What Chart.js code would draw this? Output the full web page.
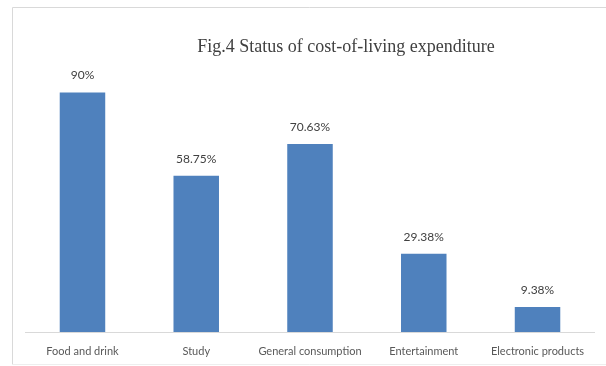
<!DOCTYPE html>
<html>
<head>
<meta charset="utf-8">
<script src="https://cdn.jsdelivr.net/npm/chart.js@4"></script>
<style>
  html, body { margin: 0; padding: 0; background: #ffffff; }
  #wrap { position: relative; width: 606px; height: 366px; }
</style>
</head>
<body>
<div id="wrap"><canvas id="c" width="606" height="366"></canvas></div>
<script>
const categories = ['Food and drink', 'Study', 'General consumption', 'Entertainment', 'Electronic products'];
const shares = [90, 58.75, 70.63, 29.38, 9.38];
const valueLabels = ['90%', '58.75%', '70.63%', '29.38%', '9.38%'];
const chartTitle = 'Fig.4 Status of cost-of-living expenditure';

const sansFamily = 'Lato, "Open Sans", sans-serif';

// Light frame around the figure
const framePlugin = {
  id: 'frame',
  beforeDraw(chart) {
    const ctx = chart.ctx;
    ctx.save();
    ctx.strokeStyle = '#d9d9d9';
    ctx.lineWidth = 1;
    ctx.beginPath();
    ctx.moveTo(12.5, 364.5);
    ctx.lineTo(12.5, 7.5);
    ctx.lineTo(606, 7.5);
    ctx.stroke();
    ctx.strokeStyle = '#eeeeee';
    ctx.beginPath();
    ctx.moveTo(12.5, 364.5);
    ctx.lineTo(606, 364.5);
    ctx.stroke();
    ctx.restore();
  }
};

// Serif heading, centred a little right of the plot centre
const headingPlugin = {
  id: 'heading',
  afterDraw(chart) {
    const ctx = chart.ctx;
    ctx.save();
    ctx.font = '18px "Liberation Serif", "Times New Roman", serif';
    ctx.fillStyle = '#404040';
    ctx.textAlign = 'center';
    ctx.textBaseline = 'alphabetic';
    ctx.fillText(chartTitle, 346, 52);
    ctx.restore();
  }
};

// Percentage above every bar
const valueLabelPlugin = {
  id: 'valueLabels',
  afterDatasetsDraw(chart) {
    const ctx = chart.ctx;
    const meta = chart.getDatasetMeta(0);
    ctx.save();
    ctx.font = '12px ' + sansFamily;
    ctx.fillStyle = '#404040';
    ctx.textAlign = 'center';
    ctx.textBaseline = 'middle';
    meta.data.forEach((bar, i) => {
      ctx.fillText(valueLabels[i], bar.x, bar.y - 17);
    });
    ctx.restore();
  }
};

new Chart(document.getElementById('c'), {
  type: 'bar',
  data: {
    labels: categories,
    datasets: [{
      data: shares,
      backgroundColor: '#4f81bd',
      borderWidth: 0,
      barPercentage: 0.4,
      categoryPercentage: 1
    }]
  },
  options: {
    responsive: false,
    animation: false,
    layout: { padding: { left: 25.6, right: 11.6, top: 66, bottom: 0 } },
    plugins: {
      legend: { display: false },
      title: { display: false },
      tooltip: { enabled: false }
    },
    scales: {
      x: {
        grid: { display: false },
        border: { display: true, color: '#d9d9d9', width: 1 },
        afterFit(scale) { scale.height = 34; },
        ticks: {
          color: '#595959',
          padding: 5,
          maxRotation: 0,
          autoSkip: false,
          font: { family: sansFamily, size: 11 }
        }
      },
      y: {
        display: false,
        min: 0,
        max: 100
      }
    }
  },
  plugins: [framePlugin, headingPlugin, valueLabelPlugin]
});
</script>
</body>
</html>
